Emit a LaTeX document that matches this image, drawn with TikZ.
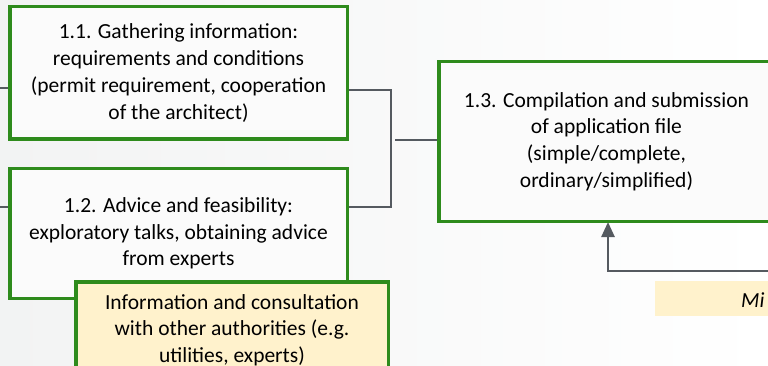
\documentclass[tikz,border=0pt]{standalone}
\usepackage{fontspec}
\setmainfont{Carlito}
\usetikzlibrary{arrows.meta}
\definecolor{boxgreen}{RGB}{46,139,28}
\definecolor{linkgray}{RGB}{85,90,96}
\definecolor{noteyellow}{RGB}{255,242,204}
\definecolor{bgleft}{RGB}{242,243,243}

\begin{document}
\begin{tikzpicture}[x=1pt,y=-1pt]
	\tikzset{every node/.style={font=\fontsize{21.5}{26.7}\selectfont,align=center,inner sep=0pt}}
	\tikzset{stepbox/.style={draw=boxgreen,line width=3.5pt,fill=white!97!gray,minimum width=337.5pt}}
	\tikzset{notebox/.style={stepbox,fill=noteyellow,minimum width=312.5pt,minimum height=96.5pt}}
	\tikzset{link/.style={draw=linkgray,line width=2pt}}
	\useasboundingbox (0,0) rectangle (768,366);
	\clip (0,0) rectangle (768,366);
	\shade[left color=bgleft,right color=white] (0,0) rectangle (768,366);
	\coordinate (inA) at (0,88);
	\coordinate (inB) at (0,207);
	\coordinate (jA) at (391,90);
	\coordinate (jB) at (391,207);
	\coordinate (miIn) at (790,271);
	\node[stepbox,minimum height=132.5pt] (gather) at (178.5,73) {1.1. Gathering information:\\requirements and conditions\\(permit requirement, cooperation\\of the architect)};
	\node[stepbox,minimum height=129.5pt] (advice) at (178.5,233.5) {1.2. Advice and feasibility:\\exploratory talks, obtaining advice\\from experts};
	\draw[link] (inA) -- (inA -| gather.west);
	\draw[link] (inB) -- (inB -| advice.west);
	\draw[link] (jA -| gather.east) -- (jA) -- (jB) -- (jB -| advice.east);
	\draw[link] ([xshift=4pt]jA |- 0,140) -- (440,140);
	\draw[link,line width=2.5pt,-{Triangle[width=13pt,length=15pt]}] (miIn) -| (608,222);
	\node[stepbox,minimum width=335.5pt,minimum height=159.5pt] (submit) at (606.5,141.5) {1.3. Compilation and submission\\of application file\\(simple/complete,\\ordinary/simplified)};
	\node[notebox] (consult) at (232,330) {Information and consultation\\with other authorities (e.g.\\utilities, experts)};
	\node[fill=noteyellow,minimum width=200pt,minimum height=35pt,anchor=north west] (mibox) at (655,281) {};
	\node[anchor=base west,font=\fontsize{21.5}{26.7}\selectfont\itshape] (mitext) at (741,307) {Mi};
\end{tikzpicture}
\end{document}
